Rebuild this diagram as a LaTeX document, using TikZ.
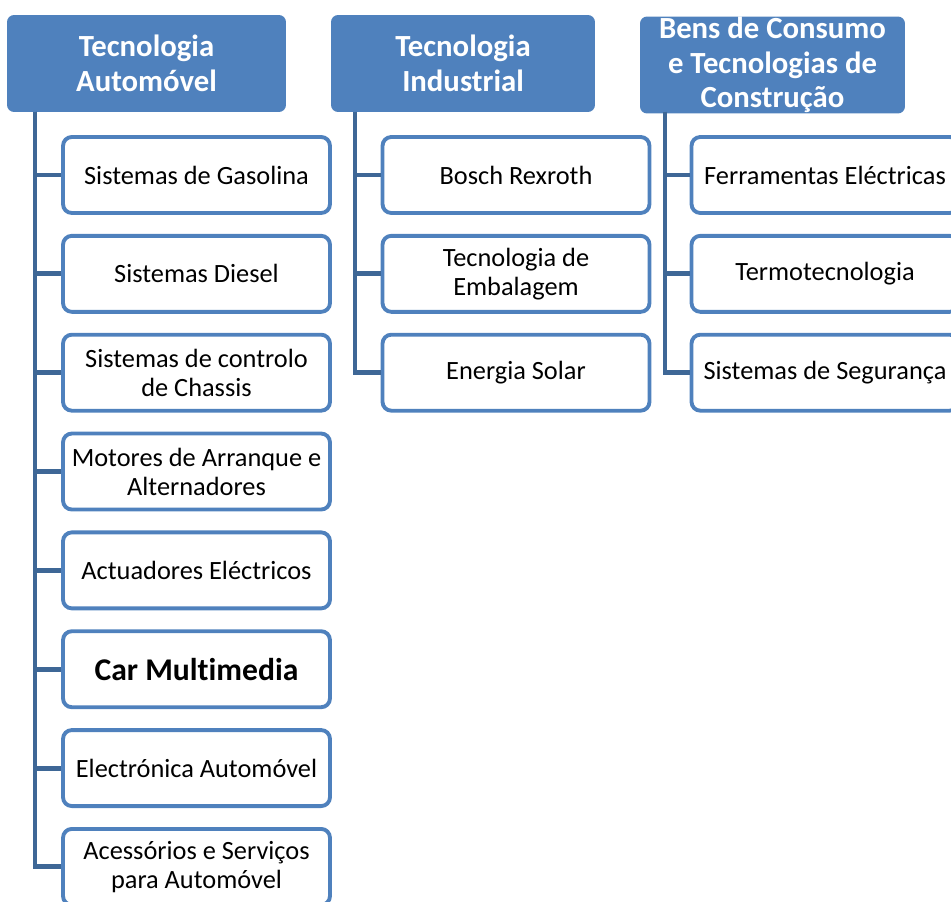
\documentclass[tikz,border=0pt]{standalone}
\usepackage{fontspec}
\setmainfont{Carlito}[Ligatures={NoCommon}]
\usetikzlibrary{positioning}
\definecolor{headblue}{RGB}{79,129,189}
\definecolor{linkblue}{RGB}{62,103,150}

\begin{document}
\begin{tikzpicture}[x=0.02cm, y=-0.02cm, node distance=0.38cm,
    head/.style={fill=headblue, rounded corners=4pt, text=white,
      font=\bfseries\fontsize{17.5}{19.8}\selectfont, align=center,
      minimum height=1.94cm, inner sep=0pt},
    item/.style={draw=headblue, fill=white, line width=2.2pt,
      rounded corners=5pt, minimum width=5.34cm, minimum height=1.52cm,
      align=center, inner sep=0pt, font=\fontsize{15}{16.5}\selectfont},
    link/.style={draw=linkblue, line width=2.8pt}]
  \clip (0,0) rectangle (951,902);

  % business sectors
  \node[head, minimum width=5.58cm] (auto) at (146.5,63.5) {Tecnologia\\Automóvel};
  \node[head, minimum width=5.28cm] (ind) at (463,63.5) {Tecnologia\\Industrial};
  \node[head, minimum width=5.30cm] (bens) at (772.5,65) {Bens de Consumo\\e Tecnologias de\\Construção};

  % trunks
  \coordinate (ta) at (35,112);
  \coordinate (ti) at (355,112);
  \coordinate (tb) at (665,112);

  % automotive
  \node[item] (a1) at (196.5,175) {Sistemas de Gasolina};
  \node[item, below=of a1] (a2) {Sistemas Diesel};
  \node[item, below=of a2] (a3) {Sistemas de controlo\\de Chassis};
  \node[item, below=of a3] (a4) {Motores de Arranque e\\Alternadores};
  \node[item, below=of a4] (a5) {Actuadores Eléctricos};
  \node[item, below=of a5, font=\bfseries\fontsize{18}{20}\selectfont] (a6) {Car Multimedia};
  \node[item, below=of a6] (a7) {Electrónica Automóvel};
  \node[item, below=of a7] (a8) {Acessórios e Serviços\\para Automóvel};

  % industrial
  \node[item] (i1) at (516,175) {Bosch Rexroth};
  \node[item, below=of i1] (i2) {Tecnologia de\\Embalagem};
  \node[item, below=of i2] (i3) {Energia Solar};

  % consumer goods
  \node[item] (b1) at (825,175) {Ferramentas Eléctricas};
  \node[item, below=of b1] (b2) {Termotecnologia};
  \node[item, below=of b2] (b3) {Sistemas de Segurança};

  \draw[link] (ta) |- (a1.west);
  \draw[link] (ta) |- (a2.west);
  \draw[link] (ta) |- (a3.west);
  \draw[link] (ta) |- (a4.west);
  \draw[link] (ta) |- (a5.west);
  \draw[link] (ta) |- (a6.west);
  \draw[link] (ta) |- (a7.west);
  \draw[link] (ta) |- (a8.west);
  \draw[link] (ti) |- (i1.west);
  \draw[link] (ti) |- (i2.west);
  \draw[link] (ti) |- (i3.west);
  \draw[link] (tb) |- (b1.west);
  \draw[link] (tb) |- (b2.west);
  \draw[link] (tb) |- (b3.west);
\end{tikzpicture}
\end{document}
